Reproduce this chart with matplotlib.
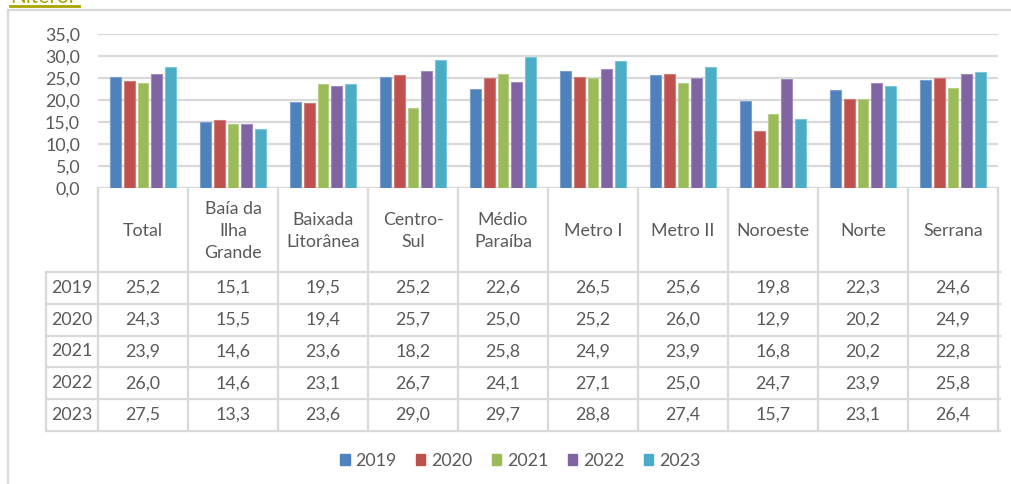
import matplotlib
matplotlib.use("Agg")
import matplotlib.pyplot as plt
import matplotlib.transforms as mtransforms
from matplotlib.lines import Line2D
from matplotlib.patches import Rectangle
import numpy as np

plt.rcParams['font.family'] = ['Lato', 'DejaVu Sans']

categories = ["Total", "Baía da\nIlha\nGrande", "Baixada\nLitorânea", "Centro-\nSul",
              "Médio\nParaíba", "Metro I", "Metro II", "Noroeste", "Norte", "Serrana"]
years = ["2019", "2020", "2021", "2022", "2023"]
v2019 = [25.2, 15.1, 19.5, 25.2, 22.6, 26.5, 25.6, 19.8, 22.3, 24.6]
v2020 = [24.3, 15.5, 19.4, 25.7, 25.0, 25.2, 26.0, 12.9, 20.2, 24.9]
v2021 = [23.9, 14.6, 23.6, 18.2, 25.8, 24.9, 23.9, 16.8, 20.2, 22.8]
v2022 = [26.0, 14.6, 23.1, 26.7, 24.1, 27.1, 25.0, 24.7, 23.9, 25.8]
v2023 = [27.5, 13.3, 23.6, 29.0, 29.7, 28.8, 27.4, 15.7, 23.1, 26.4]
series = [v2019, v2020, v2021, v2022, v2023]
colors = ["#4F81BD", "#C0504D", "#9BBB59", "#8064A2", "#4BACC6"]
edges = ["#7DA0CE", "#D07E7B", "#B6CE8A", "#A08CBE", "#7EC4D7"]
yticks = [0, 5, 10, 15, 20, 25, 30, 35]

W, H = 1011, 484
fig = plt.figure(figsize=(W / 100, H / 100), dpi=100)
fig.patch.set_facecolor("white")

def fx(px):
    return px / W

def fy(py):
    return 1 - py / H

grid_c = "#D9D9D9"
text_c = "#595959"
fs = 12.8

# plot area
x0, x1 = 98, 998
ytop, ybot = 34, 188
ax = fig.add_axes([fx(x0), fy(ybot), fx(x1) - fx(x0), fy(ytop) - fy(ybot)])
ax.set_xlim(0, len(categories))
ax.set_ylim(0, 35)
for s in ax.spines.values():
    s.set_visible(False)
ax.set_yticks(yticks)
ax.set_yticklabels([f"{t:.1f}".replace(".", ",") for t in yticks], fontsize=fs, color=text_c)
ax.tick_params(axis="y", length=0, pad=13)
ax.set_xticks([])
ax.yaxis.grid(True, color=grid_c, linewidth=1.6)
ax.set_axisbelow(True)

n = len(series)
x = np.arange(len(categories)) + 0.5
step = 0.155
bw = 0.122
for i, (vals, c, e) in enumerate(zip(series, colors, edges)):
    ax.bar(x + (i - (n - 1) / 2) * step, vals, width=bw, color=c, edgecolor=e,
           linewidth=0.8, zorder=3)

# table
trans = mtransforms.blended_transform_factory(ax.transData, fig.transFigure)
row_top = 272
row_h = 31.8
tab_bot = row_top + row_h * len(years)
col_left = 46

lines = []
for k in range(len(categories) + 1):
    lines.append(Line2D([k, k], [fy(ybot), fy(tab_bot)], transform=trans,
                        color=grid_c, linewidth=1.6))
for r in range(len(years) + 1):
    yy = fy(row_top + r * row_h)
    lines.append(Line2D([fx(col_left), fx(x1 + 2)], [yy, yy], transform=fig.transFigure,
                        color=grid_c, linewidth=1.6))
lines.append(Line2D([fx(col_left), fx(col_left)], [fy(row_top), fy(tab_bot)],
                    transform=fig.transFigure, color=grid_c, linewidth=1.6))
for l in lines:
    fig.add_artist(l)

hdr_mid = (ybot + row_top) / 2 + 1
for k, cat in enumerate(categories):
    fig.text(k + 0.5, fy(hdr_mid), cat, transform=trans, ha="center", va="center",
             fontsize=fs, color=text_c, linespacing=1.5)

for r, (yr, vals) in enumerate(zip(years, series)):
    ymid = fy(row_top + (r + 0.5) * row_h)
    fig.text(fx((col_left + x0) / 2), ymid, yr, ha="center", va="center",
             fontsize=fs, color=text_c)
    for k, v in enumerate(vals):
        fig.text(k + 0.5, ymid, f"{v:.1f}".replace(".", ","), transform=trans,
                 ha="center", va="center", fontsize=fs, color=text_c)

# legend
leg_handles = [Rectangle((0, 0), 1, 1, facecolor=c, edgecolor=c) for c in colors]
fig.legend(leg_handles, years, loc="center", bbox_to_anchor=(fx(520), fy(461)),
           ncol=5, frameon=False, fontsize=fs, handlelength=0.55, handleheight=0.55,
           handletextpad=0.3, columnspacing=1.1, labelcolor=text_c)

# outer frame lines
fig.add_artist(Line2D([fx(8), fx(W)], [fy(10), fy(10)], transform=fig.transFigure,
                      color=grid_c, linewidth=1.6))
fig.add_artist(Line2D([fx(8), fx(8)], [fy(10), fy(H)], transform=fig.transFigure,
                      color=grid_c, linewidth=1.6))

# partially visible title (cut off at the top edge, as in the source image)
fig.text(fx(10), fy(3), "Niterói", ha="left", va="baseline", fontsize=15, color="#A8A400")
fig.add_artist(Line2D([fx(10), fx(79)], [fy(6), fy(6)], transform=fig.transFigure,
                      color="#A8A400", linewidth=2))

fig.savefig("out.png", dpi=100)
